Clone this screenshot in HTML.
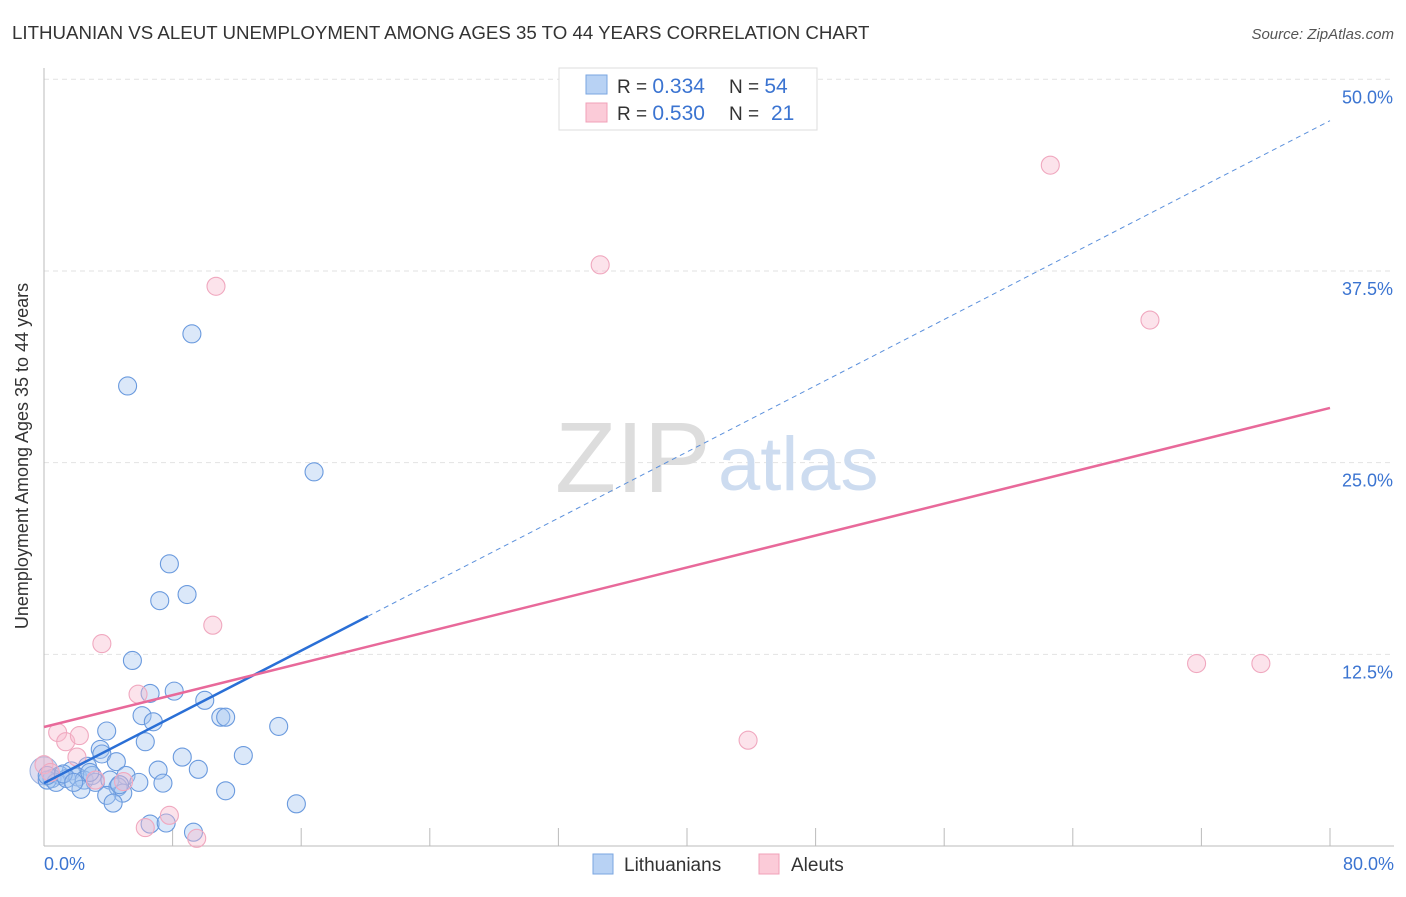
<!DOCTYPE html>
<html><head><meta charset="utf-8"><style>
body{margin:0;background:#fff;font-family:"Liberation Sans",sans-serif;}
svg text{font-family:"Liberation Sans",sans-serif;}
</style></head><body>
<svg id="c" width="1406" height="892" xmlns="http://www.w3.org/2000/svg">
<text x="12" y="39" font-size="18.7" fill="#333">LITHUANIAN VS ALEUT UNEMPLOYMENT AMONG AGES 35 TO 44 YEARS CORRELATION CHART</text>
<text x="1394" y="39" font-size="15" fill="#555" font-style="italic" text-anchor="end">Source: ZipAtlas.com</text>
<g id="grid"></g>
<text x="555" y="492" font-size="100" fill="#ddd" font-family="Liberation Serif">ZIP</text>
<text x="718" y="490" font-size="76" fill="#cddcf0">atlas</text>
<g id="axes"></g>
<g id="pts"></g>
<g id="lines"></g>
<text x="28" y="456" font-size="18" fill="#333" text-anchor="middle" transform="rotate(-90 28 456)">Unemployment Among Ages 35 to 44 years</text>
<text x="44" y="870" font-size="18" fill="#3b74d1">0.0%</text>
<text x="1394" y="870" font-size="18" fill="#3b74d1" text-anchor="end">80.0%</text>
<g>
<rect x="559" y="68" width="258" height="62" fill="#fff" stroke="#ddd"/>
<rect x="586" y="75" width="21" height="19" fill="#b8d2f4" stroke="#7aa6e0"/>
<rect x="586" y="103" width="21" height="19" fill="#fbcbd8" stroke="#f0a0b8"/>
<text x="617" y="93" font-size="19" fill="#333">R = <tspan fill="#3b74d1" font-size="21">0.334</tspan><tspan x="729">N = </tspan><tspan fill="#3b74d1" font-size="21">54</tspan></text>
<text x="617" y="120" font-size="19" fill="#333">R = <tspan fill="#3b74d1" font-size="21">0.530</tspan><tspan x="729">N = </tspan><tspan fill="#3b74d1" font-size="21" x="771">21</tspan></text>
</g>
<g>
<rect x="593" y="854" width="20" height="20" fill="#b8d2f4" stroke="#7aa6e0"/>
<text x="624" y="871" font-size="19" fill="#333">Lithuanians</text>
<rect x="759" y="854" width="20" height="20" fill="#fbcbd8" stroke="#f0a0b8"/>
<text x="791" y="871" font-size="19" fill="#333">Aleuts</text>
</g>
</svg>
<script>
const yTicks=[12.5,25,37.5,50];
const yTickLabels=["12.5%","25.0%","37.5%","50.0%"];
const xTicks=[0,8,16,24,32,40,48,56,64,72,80];
const blueX=[9.2,5.2,16.8,7.8,8.9,7.2,5.5,6.6,8.1,10.0,6.1,6.8,11.0,11.3,14.6,3.9,6.3,3.5,3.6,8.6,12.4,4.5,7.1,9.6,2.7,5.1,1.7,1.0,0.5,0.2,0.75,1.4,2.1,2.5,3.0,3.2,5.9,7.4,4.1,4.6,4.9,3.9,2.3,4.3,11.3,15.7,6.6,7.6,9.3,0.2,1.2,4.7,2.85,1.85];
const blueY=[33.4,30.0,24.4,18.4,16.4,16.0,12.1,9.95,10.1,9.5,8.5,8.1,8.4,8.4,7.8,7.5,6.8,6.3,6.0,5.8,5.9,5.5,4.95,5.0,5.2,4.6,4.9,4.6,4.4,4.3,4.15,4.4,4.5,4.3,4.6,4.15,4.15,4.1,4.3,3.85,3.45,3.3,3.7,2.8,3.6,2.75,1.43,1.5,0.9,4.6,4.7,4.0,4.8,4.15];
const pinkX=[62.6,34.6,10.7,68.8,10.5,3.6,71.7,75.7,43.8,5.85,0.85,1.35,2.2,2.05,3.2,4.95,7.8,6.3,9.5,0.0,0.4];
const pinkY=[44.4,37.9,36.5,34.3,14.4,13.2,11.9,11.9,6.9,9.9,7.4,6.8,7.2,5.8,4.3,4.2,2.0,1.2,0.5,5.3,4.8];
const blueLine=[0,4.1,20.15,0.54];
const pinkLine=[0,7.76,80,28.57];
const X=v=>44+v/80*1286, Y=v=>846-v/50*766.7;
const NS="http://www.w3.org/2000/svg";
function mk(p,t,a){const e=document.createElementNS(NS,t);for(const k in a)e.setAttribute(k,a[k]);document.getElementById(p).appendChild(e);return e;}
yTicks.forEach((t,i)=>{
 const l=mk('grid','line',{x1:44,x2:1394,y1:Y(t),y2:Y(t),stroke:'#e2e2e2','stroke-dasharray':'5,4'});
 
 
 const tx=mk('grid','text',{x:1393,y:Y(t)+24,'font-size':18,fill:'#3b74d1','text-anchor':'end'});
 tx.textContent=yTickLabels[i];
 
 
});
let a=mk('axes','line',{x1:44,x2:44,y1:68,y2:846,stroke:'#bbb'});


a=mk('axes','line',{x1:44,x2:1394,y1:846,y2:846,stroke:'#bbb'});


xTicks.forEach(t=>{const l=mk('axes','line',{x1:X(t),x2:X(t),y1:828,y2:846,stroke:'#bbb'});
 
 });
let big=mk('pts','circle',{cx:X(0),cy:Y(4.9),r:14,fill:'rgba(170,170,220,0.4)',stroke:'#9ab2e0'});


blueX.forEach((x,i)=>{const c=mk('pts','circle',{cx:X(x),cy:Y(blueY[i]),r:9,fill:'rgba(165,198,240,0.4)',stroke:'#6a9ade','stroke-width':1.1});
 
 });
pinkX.forEach((x,i)=>{const c=mk('pts','circle',{cx:X(x),cy:Y(pinkY[i]),r:9,fill:'rgba(248,185,205,0.4)',stroke:'#f0a8bf','stroke-width':1.1});
 
 });
const bx1=blueLine[2], by=x=>blueLine[1]+blueLine[3]*x;
let l=mk('lines','line',{x1:X(bx1),y1:Y(by(bx1)),x2:X(80),y2:Y(by(80)),stroke:'#5b90dc','stroke-dasharray':'5,4','stroke-width':1});


l=mk('lines','line',{x1:X(0),y1:Y(by(0)),x2:X(bx1),y2:Y(by(bx1)),stroke:'#2a6fd6','stroke-width':2.5});


l=mk('lines','line',{x1:X(pinkLine[0]),y1:Y(pinkLine[1]),x2:X(pinkLine[2]),y2:Y(pinkLine[3]),stroke:'#e8699a','stroke-width':2.5});


</script>
</body></html>
